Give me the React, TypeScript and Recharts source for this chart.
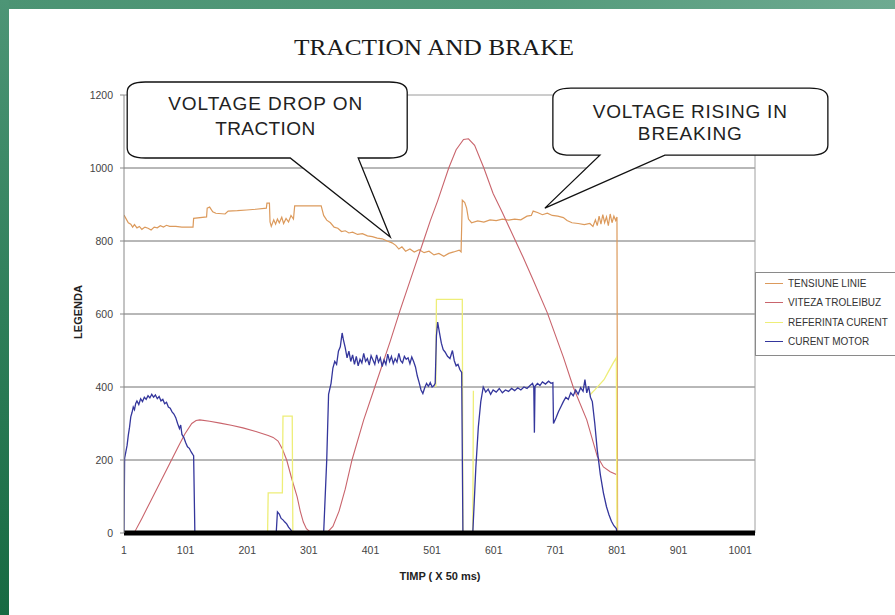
import React from "react";
import {
  CartesianGrid,
  Legend,
  Line,
  LineChart,
  ReferenceDot,
  ReferenceLine,
  XAxis,
  YAxis,
} from "recharts";

// time axis (x 50 ms samples) and value axis ticks
const xTicks = [1, 101, 201, 301, 401, 501, 601, 701, 801, 901, 1001];
const yTicks = [0, 200, 400, 600, 800, 1000, 1200];

// TENSIUNE LINIE
const tensiuneT = [
  1, 4, 8, 12, 15, 18, 22, 26, 30, 35, 40, 45, 50, 55, 60, 65, 70, 75, 85, 95, 105, 113, 114, 135, 136, 140,
  145, 150, 165, 170, 185, 200, 215, 232, 233, 237, 238, 240, 244, 247, 250, 253, 257, 260, 264, 268, 272, 276,
  278, 321, 325, 330, 336, 342, 348, 354, 360, 366, 372, 380, 388, 396, 404, 412, 420, 428, 436, 442, 447, 452,
  458, 465, 472, 480, 488, 496, 504, 512, 520, 528, 536, 545, 548, 550, 554, 557, 560, 565, 575, 585, 595, 605,
  615, 625, 635, 645, 655, 662, 665, 672, 680, 688, 696, 705, 714, 720, 728, 738, 748, 757, 762, 766, 769, 772,
  775, 778, 781, 784, 787, 790, 793, 796, 799, 801, 802,
];
const tensiuneV = [
  871, 862, 850, 846, 838, 845, 836, 840, 832, 838, 835, 830, 838, 836, 842, 838, 843, 840, 840, 838, 838, 838, 862, 866, 890, 893,
  880, 876, 874, 882, 883, 885, 887, 890, 904, 904, 852, 840, 858, 846, 860, 850, 865, 848, 862, 852, 870, 860,
  896, 896, 870, 857, 850, 838, 835, 826, 828, 822, 824, 818, 820, 814, 812, 808, 806, 800, 795, 788, 778, 784,
  772, 778, 770, 776, 768, 772, 762, 766, 758, 766, 770, 775, 770, 912, 905, 890, 860, 850, 855, 852, 858, 856,
  860, 857, 860, 858, 868, 870, 882, 878, 872, 876, 870, 868, 864, 856, 850, 848, 845, 848, 840, 858, 842, 868,
  846, 872, 850, 866, 842, 874, 850, 868, 856, 866, 0,
];

// VITEZA TROLEIBUZ
const vitezaT = [
  1, 12, 19, 30, 45, 60, 75, 90, 100, 111, 118, 124, 140, 157, 175, 194, 215, 235, 243, 251, 258, 265, 273, 282,
  287, 292, 297, 303, 310, 330, 340, 350, 360, 371, 390, 408, 433, 449, 465, 487, 498, 510, 528, 540, 552, 560,
  570, 585, 600, 615, 630, 648, 665, 688, 714, 730, 752, 769, 779, 790, 800,
];
const vitezaV = [
  0, 0, 5, 40, 90, 140, 190, 240, 272, 300, 308, 310, 306, 301, 295, 288, 278, 267, 262, 252, 230, 200, 150, 99,
  60, 30, 12, 3, 0, 0, 18, 60, 120, 200, 310, 400, 525, 610, 690, 800, 855, 910, 1000, 1050, 1078, 1080,
  1062, 1000, 930, 878, 823, 758, 693, 603, 482, 400, 310, 210, 181, 168, 160,
];

// REFERINTA CURENT (null = hidden under the motor current trace)
const referintaT = [
  234, 235, 258, 259, 274, 275, 276, 506, 507, 508, 550, 551, 552, 566, 567, 568, 569, 756, 757, 765, 772, 780,
  788, 795, 800, 801,
];
const referintaV = [
  0, 110, 110, 320, 320, 0, null, null, 400, 640, 640, 0, null, null, 0, 390, null, null, 378, 392, 405, 420,
  445, 466, 480, 0,
];

// CURENT MOTOR
const motorT = [
  1, 2, 4, 6, 8, 10, 12, 14, 16, 18, 20, 22, 25, 28, 31, 34, 37, 40, 43, 46, 49, 52, 55, 58, 61, 64, 67, 70, 73,
  76, 79, 82, 85, 88, 91, 93, 95, 98, 101, 104, 107, 110, 113, 114, 116, 248, 250, 253, 256, 259, 262, 265, 268,
  272, 275, 325, 330, 333, 337, 340, 343, 346, 349, 352, 355, 357, 360, 363, 366, 369, 372, 375, 378, 381, 384,
  387, 390, 393, 396, 399, 402, 405, 408, 411, 414, 417, 420, 423, 426, 429, 432, 435, 438, 441, 444, 447, 450,
  453, 456, 459, 462, 465, 468, 471, 474, 477, 480, 483, 486, 489, 492, 495, 498, 501, 504, 506, 508, 510, 513,
  516, 519, 522, 526, 530, 534, 537, 540, 543, 546, 549, 551, 567, 572, 576, 580, 584, 588, 592, 596, 600, 605,
  610, 615, 620, 625, 630, 635, 640, 645, 650, 655, 660, 664, 666, 667, 668, 672, 676, 680, 685, 690, 694, 697,
  698, 702, 706, 710, 714, 718, 722, 726, 730, 734, 738, 742, 746, 749, 752, 755, 758, 761, 765, 769, 774, 779,
  784, 788, 792, 796, 800, 801,
];
const motorV = [
  0, 205, 222, 240, 268, 290, 318, 330, 345, 338, 355, 362, 352, 368, 360, 372, 366, 376, 370, 380, 372, 378, 368, 374, 362, 366, 354, 358, 345,
  342, 332, 326, 316, 300, 286, 296, 270, 262, 248, 236, 232, 222, 214, 212, 0, 0, 58, 52, 40, 36, 30, 25, 16,
  8, 0, 0, 200, 380, 410, 452, 470, 462, 498, 510, 548, 530, 508, 480, 498, 470, 488, 462, 484, 458, 476,
  466, 492, 470, 478, 460, 486, 474, 462, 488, 468, 480, 456, 474, 462, 490, 470, 484, 464, 478, 468, 492, 472,
  466, 484, 476, 480, 464, 482, 470, 455, 430, 412, 392, 382, 398, 410, 402, 412, 400, 404, 410, 540, 578, 548,
  520, 502, 496, 484, 478, 500, 472, 458, 462, 448, 440, 0, 0, 180, 290, 360, 400, 386, 394, 380, 392, 386,
  396, 384, 392, 388, 396, 390, 398, 392, 400, 396, 404, 410, 400, 275, 402, 410, 404, 414, 408, 416, 410, 412,
  300, 315, 332, 346, 360, 372, 366, 384, 376, 392, 380, 398, 388, 420, 384, 402, 372, 360, 300, 227, 160, 110,
  72, 50, 32, 20, 12, 0,
];

const toPoints = (ts: number[], vs: (number | null)[]) => ts.map((t, i) => ({ t, v: vs[i] }));

const series = [
  { name: "TENSIUNE LINIE", color: "#dc9a5c", width: 1.2, data: toPoints(tensiuneT, tensiuneV) },
  { name: "VITEZA TROLEIBUZ", color: "#c9646c", width: 1.1, data: toPoints(vitezaT, vitezaV) },
  { name: "REFERINTA CURENT", color: "#eeee78", width: 1.3, data: toPoints(referintaT, referintaV) },
  { name: "CURENT MOTOR", color: "#34369c", width: 1.3, data: toPoints(motorT, motorV) },
];

// callouts: anchored at the point they refer to, box drawn relative to it
const callouts = [
  {
    t: 433,
    v: 811,
    box: { l: -263, r: 17, top: -155, b: -79 },
    base: [-100, -32],
    cx: -125,
    lines: [
      { text: "VOLTAGE DROP ON", dy: -127, w: 194 },
      { text: "TRACTION", dy: -102, w: 100 },
    ],
  },
  {
    t: 684,
    v: 890,
    box: { l: 8, r: 283, top: -120, b: -53 },
    base: [55, 120],
    cx: 145,
    lines: [
      { text: "VOLTAGE RISING IN", dy: -90, w: 194 },
      { text: "BREAKING", dy: -68, w: 104 },
    ],
  },
];

const sans = "'Liberation Sans', Arial, sans-serif";

function Bubble({ cx, cy, c }: any) {
  const L = cx + c.box.l;
  const R = cx + c.box.r;
  const T = cy + c.box.top;
  const B = cy + c.box.b;
  const rx = 18;
  const ry = 10;
  const d = [
    `M${L + rx},${T}`,
    `L${R - rx},${T}`,
    `Q${R},${T} ${R},${T + ry}`,
    `L${R},${B - ry}`,
    `Q${R},${B} ${R - rx},${B}`,
    `L${cx + c.base[1]},${B}`,
    `L${cx},${cy}`,
    `L${cx + c.base[0]},${B}`,
    `L${L + rx},${B}`,
    `Q${L},${B} ${L},${B - ry}`,
    `L${L},${T + ry}`,
    `Q${L},${T} ${L + rx},${T}`,
    "Z",
  ].join(" ");
  return (
    <g>
      <path d={d} fill="#fff" stroke="#111" strokeWidth={1.3} />
      {c.lines.map((ln: any) => (
        <text
          key={ln.text}
          x={cx + c.cx}
          y={cy + ln.dy}
          textAnchor="middle"
          fontFamily={sans}
          fontSize={19}
          fill="#222"
          textLength={ln.w}
          lengthAdjust="spacing"
        >
          {ln.text}
        </text>
      ))}
    </g>
  );
}

function LegendBox() {
  return (
    <div
      style={{
        border: "1px solid #8a8a8a",
        background: "#fff",
        height: 84,
        boxSizing: "border-box",
        paddingTop: 1,
        fontFamily: sans,
        fontSize: 10,
        color: "#333",
      }}
    >
      {series.map((s) => (
        <div key={s.name} style={{ height: 19.3, display: "flex", alignItems: "center", whiteSpace: "nowrap" }}>
          <span style={{ display: "inline-block", width: 18, height: 0, borderTop: `1.5px solid ${s.color}`, marginLeft: 9, marginRight: 5 }} />
          {s.name}
        </div>
      ))}
    </div>
  );
}

export default function App() {
  return (
    <div style={{ position: "absolute", left: 0, top: 0, width: 895, height: 615, overflow: "hidden", background: "#fff" }}>
      <div style={{ position: "absolute", left: 0, top: 0, width: 895, height: 9, background: "linear-gradient(to right, #4b9373, #559b7c 60%, #6eaa91)" }} />
      <div style={{ position: "absolute", left: 0, top: 0, width: 9, height: 615, background: "linear-gradient(to bottom, #4d9576, #2f7f5a 50%, #176a42)" }} />
      <div style={{ position: "absolute", left: 0, top: 0 }}>
        <LineChart width={895} height={615} margin={{ top: 95, right: 140, bottom: 52, left: 74 }}>
          <CartesianGrid vertical={false} horizontalValues={[200, 400, 600, 800, 1000]} stroke="#707070" />
          <ReferenceLine y={1200} stroke="#9a9a9a" />
          <ReferenceLine x={1025} stroke="#a0a0a0" />
          <XAxis
            type="number"
            dataKey="t"
            domain={[1, 1025]}
            ticks={xTicks}
            allowDataOverflow
            height={30}
            tickLine={false}
            tickSize={6}
            tickMargin={8}
            axisLine={{ stroke: "#000", strokeWidth: 5 }}
            tick={{ fontSize: 10.5, fill: "#444", fontFamily: sans }}
          />
          <YAxis
            type="number"
            domain={[0, 1200]}
            ticks={yTicks}
            width={50}
            tickSize={4}
            tickMargin={7}
            axisLine={{ stroke: "#888" }}
            tickLine={{ stroke: "#888" }}
            tick={{ fontSize: 10.5, fill: "#444", fontFamily: sans }}
          />
          {series.map((s) => (
            <Line
              key={s.name}
              data={s.data}
              dataKey="v"
              name={s.name}
              type="linear"
              stroke={s.color}
              strokeWidth={s.width}
              dot={false}
              isAnimationActive={false}
            />
          ))}
          <Legend
            layout="horizontal"
            verticalAlign="middle"
            align="center"
            wrapperStyle={{ position: "absolute", left: 755, top: 272, width: 160, height: 85 }}
            content={() => <LegendBox />}
          />
          {callouts.map((c) => (
            <ReferenceDot
              key={c.t}
              x={c.t}
              y={c.v}
              r={0}
              ifOverflow="visible"
              shape={(p: any) => <Bubble cx={p.cx} cy={p.cy} c={c} />}
            />
          ))}
        </LineChart>
      </div>
      <svg width={895} height={615} style={{ position: "absolute", left: 0, top: 0, pointerEvents: "none" }}>
        <text x={434} y={55} textAnchor="middle" fontFamily="'Liberation Serif', serif" fontSize={24} fill="#1a1a1a" textLength={280} lengthAdjust="spacingAndGlyphs">
          TRACTION AND BRAKE
        </text>
        <text transform="translate(82,312) rotate(-90)" textAnchor="middle" fontFamily={sans} fontSize={11} fontWeight="bold" fill="#222">
          LEGENDA
        </text>
        <text x={440} y={580} textAnchor="middle" fontFamily={sans} fontSize={11} fontWeight="bold" fill="#222">
          TIMP ( X 50 ms)
        </text>
      </svg>
    </div>
  );
}
